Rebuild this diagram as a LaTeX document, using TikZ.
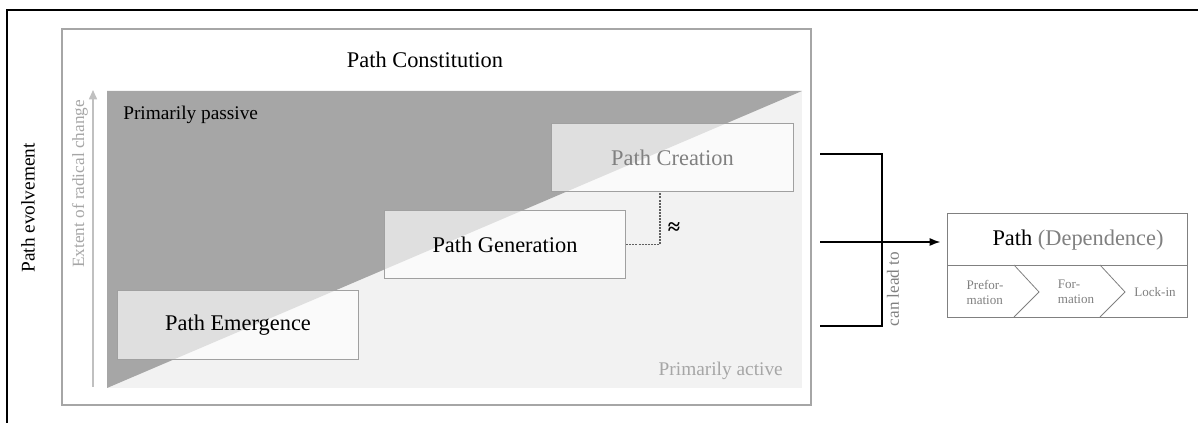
\documentclass[tikz,border=0pt]{standalone}
\usepackage{fontspec}
\setmainfont{Liberation Serif}
\usetikzlibrary{arrows.meta}

\definecolor{passivegray}{HTML}{A6A6A6}
\definecolor{activegray}{HTML}{F2F2F2}
\definecolor{framegray}{HTML}{A6A6A6}
\definecolor{boxline}{HTML}{A0A0A0}
\definecolor{midgray}{HTML}{808080}
\definecolor{lightgray}{HTML}{A6A6A6}
\definecolor{axisgray}{HTML}{C0C0C0}
\definecolor{dashgray}{HTML}{606060}

\newcommand{\bigtxt}{\fontsize{16.8}{20}\selectfont}
\newcommand{\midtxt}{\fontsize{14.5}{17}\selectfont}
\newcommand{\axtxt}{\fontsize{12.9}{15}\selectfont}
\newcommand{\smalltxt}{\fontsize{9.8}{11.3}\selectfont}

\begin{document}
\begin{tikzpicture}[x=0.75pt,y=-0.75pt,
  phasebox/.style={draw=boxline, line width=0.9pt, fill=white, fill opacity=0.65,
    text opacity=1, inner sep=0pt, minimum width=181pt, minimum height=51.5pt,
    font=\bigtxt},
  txt/.style={inner sep=0pt},
  bracket/.style={draw=black, line width=1pt},
  chev/.style={draw=midgray, line width=0.6pt}]

\useasboundingbox (0,0) rectangle (1198,423);

% outer frame (top and left edges)
\draw[line width=1.6pt] (7,423) -- (7,10) -- (1198,10);

% inner frame
\draw[framegray, line width=1pt] (62,29) rectangle (811,405);

% passive / active fields
\fill[activegray] (107,91) rectangle (802,388);
\fill[passivegray] (107,388) -- (107,91) -- (802,91) -- cycle;

% labels
\node[txt, font=\bigtxt] (constitution) at (425,60) {Path Constitution};
\node[txt, font=\midtxt, anchor=base west] (passive) at (123,120) {Primarily passive};
\node[txt, font=\midtxt, text=lightgray, anchor=base east] (active) at (783,376) {Primarily active};
\node[txt, font=\midtxt, rotate=90] (evolvement) at (28,208) {Path evolvement};
\node[txt, font=\axtxt, text=lightgray, rotate=90] (extent) at (80,184) {Extent of radical change};

% axis arrow
\coordinate (axisbottom) at (93,387);
\coordinate (axistop) at (93,90);
\draw[axisgray, line width=1.2pt, -{Triangle[width=6pt,length=7pt]}] (axisbottom) -- (axistop);

% three phases
\node[phasebox] (emergence) at (238,325) {Path Emergence};
\node[phasebox] (generation) at (505,244.5) {Path Generation};
\node[phasebox, text=midgray] (creation) at (672.5,157.5) {Path Creation};

% dashed link with approx sign
\draw[dashgray, line width=0.8pt, dash pattern=on 1.5pt off 0.8pt]
  (generation.east) -| ([xshift=-9.4pt]creation.south);
\node[txt, font=\bigtxt\bfseries] (approx) at (674,229) {≈};

% bracket and arrow
\coordinate (b1) at (820,154);
\coordinate (b2) at (882,154);
\coordinate (b3) at (882,326);
\coordinate (b4) at (820,326);
\coordinate (a1) at (820,242);
\draw[bracket] (b1) -- (b2) -- (b3) -- (b4);
\node[txt, font=\axtxt, text=midgray, rotate=90] (leadto) at (893,289) {can lead to};

% path dependence box
\node[draw=midgray, line width=0.7pt, inner sep=0pt, minimum width=180pt, minimum height=39pt,
  anchor=north west] (dep) at (947,213) {};
\node[draw=midgray, line width=0.7pt, inner sep=0pt, minimum width=180pt, minimum height=39pt,
  anchor=north west] (stages) at (947,265) {};
\node[txt, font=\bigtxt] (deptitle) at (1078,240) {Path \textcolor{midgray}{(Dependence)}};
\draw[bracket, -{Latex[length=8pt,width=6pt]}] (a1) -- (a1 -| dep.west) [shorten >=5pt];

\coordinate (c1a) at (1014,265);
\coordinate (c1b) at (1039,292);
\coordinate (c1c) at (1014,317);
\coordinate (c2a) at (1100,265);
\coordinate (c2b) at (1125,292);
\coordinate (c2c) at (1100,317);
\draw[chev] (c1a) -- (c1b) -- (c1c);
\draw[chev] (c2a) -- (c2b) -- (c2c);

\node[txt, font=\smalltxt, text=midgray, align=left] (preform) at (985,292) {Prefor-\\mation};
\node[txt, font=\smalltxt, text=midgray, align=left] (form) at (1076,292) {For-\\mation};
\node[txt, font=\smalltxt, text=midgray] (lockin) at (1155,292) {Lock-in};

\end{tikzpicture}
\end{document}
